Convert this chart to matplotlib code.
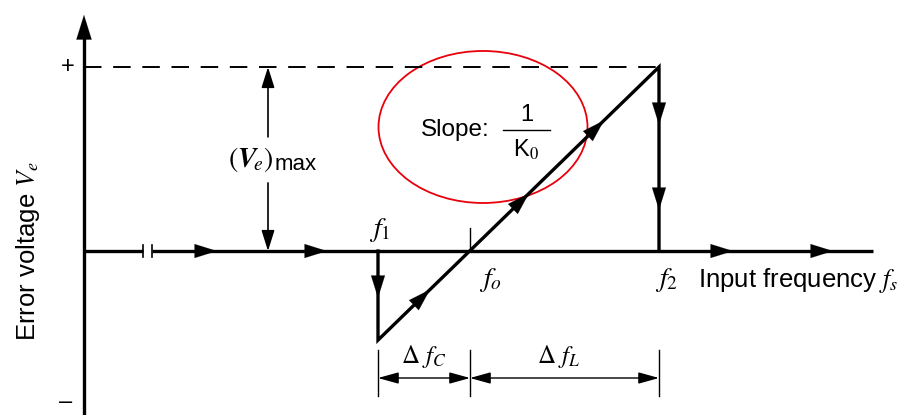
import numpy as np
import matplotlib.pyplot as plt
from matplotlib.patches import Ellipse

plt.rcParams['font.family'] = ['Liberation Sans', 'DejaVu Sans']
plt.rcParams['mathtext.fontset'] = 'stix'

# frequency positions, measured from the V_e axis
f_axis_end = 7.89
f_break = [0.59, 0.68]
f1, fo, f2 = 2.94, 3.86, 5.75
f_vmax_marker = 1.84

# error voltage, normalised so that (V_e)max = 1
v_max = 1.0
v_low = -0.484
v_axis = [-0.891, 1.283]
v_minus = -0.82
v_dim = -0.69

# direction arrows along each branch of the characteristic
axis_arrows = [1.33, 2.43, 6.49, 7.49]
f1_drop_arrow = -0.255
rise_arrows = [3.46, 4.45, 5.20]
f2_drop_arrows = [0.685, 0.223]

LW = 2.4
HEAD = '-|>,head_length=0.8,head_width=0.25'


def rise(f):
    return v_low + (f - f1) / (f2 - f1) * (v_max - v_low)


def head(ax, tip, back, style=HEAD, scale=20):
    ax.annotate('', xy=tip, xytext=back,
                arrowprops=dict(arrowstyle=style, mutation_scale=scale,
                                color='black', lw=0.1, shrinkA=0, shrinkB=0))


fig = plt.figure(figsize=(9.12, 4.15), dpi=100)
ax = fig.add_axes([0, 0, 1, 1])
ax.set_xlim(-0.84, 8.28)
ax.set_ylim(-0.891, 1.364)
ax.axis('off')

# V_e axis
ax.plot([0, 0], [v_axis[0], v_axis[1] - 0.05], color='black', lw=LW)
head(ax, (0, v_axis[1]), (0, v_axis[1] - 0.1), scale=22)
ax.text(-0.16, v_max, '+', fontsize=17, ha='center', va='center')
ax.text(-0.18, v_minus, '\u2013', fontsize=17, ha='center', va='center')

# frequency axis with a break near the origin
ax.plot([0, f_break[0]], [0, 0], color='black', lw=LW, solid_capstyle='butt')
ax.plot([f_break[1], f_axis_end], [0, 0], color='black', lw=LW, solid_capstyle='butt')
for fb in f_break:
    ax.plot([fb, fb], [-0.035, 0.035], color='black', lw=1.2)
for fa in axis_arrows:
    head(ax, (fa, 0), (fa - 0.1, 0))

# (V_e)max level
ax.plot([0, f2], [v_max, v_max], color='black', lw=1.4, ls=(0, (9, 6)))

# characteristic: drop at f1, linear rise through fo, drop at f2
ax.plot([f1, f1, f2, f2], [0, v_low, v_max, 0], color='black', lw=LW,
        solid_joinstyle='miter')
head(ax, (f1, f1_drop_arrow), (f1, f1_drop_arrow + 0.05))
for fr in rise_arrows:
    head(ax, (fr, rise(fr)), (fr - 0.06, rise(fr - 0.06)))
for vd in f2_drop_arrows:
    head(ax, (f2, vd), (f2, vd + 0.05))
ax.plot([fo, fo], [0, 0.125], color='black', lw=1.0)

# (V_e)max dimension
ax.annotate('', xy=(f_vmax_marker, v_max), xytext=(f_vmax_marker, 0.62),
            arrowprops=dict(arrowstyle='-|>,head_length=0.7,head_width=0.22',
                            mutation_scale=18, color='black', lw=1.2,
                            shrinkA=0, shrinkB=0))
ax.annotate('', xy=(f_vmax_marker, 0), xytext=(f_vmax_marker, 0.37),
            arrowprops=dict(arrowstyle='-|>,head_length=0.7,head_width=0.22',
                            mutation_scale=18, color='black', lw=1.2,
                            shrinkA=0, shrinkB=0))
ax.text(f_vmax_marker + 0.06, 0.495, r'$(\mathbfit{V}_{\!e})$', fontsize=20,
        ha='right', va='center')
ax.text(f_vmax_marker + 0.07, 0.47, 'max', fontsize=16, ha='left', va='center')

# frequency labels
ax.text(f1 + 0.02, 0.04, r'$f_1$', fontsize=20, ha='center', va='bottom')
ax.text(fo + 0.2, -0.16, r'$f_o$', fontsize=20, ha='center', va='center')
ax.text(f2 + 0.08, -0.155, r'$f_2$', fontsize=20, ha='center', va='center')
ax.text(6.14, -0.16, r'Input frequency $f_s$', fontsize=18.5, ha='left', va='center')
ax.text(-0.56, 0.0, r'Error voltage $V_e$', fontsize=18.5, rotation=90,
        ha='center', va='center')

# Δf_C and Δf_L dimensions
for fx in [f1, fo, f2]:
    ax.plot([fx, fx], [-0.54, -0.79], color='black', lw=1.0)
dim_style = '<|-|>,head_length=0.9,head_width=0.25'
for a, b in [(f1, fo), (fo, f2)]:
    ax.annotate('', xy=(b, v_dim), xytext=(a, v_dim),
                arrowprops=dict(arrowstyle=dim_style, mutation_scale=14,
                                color='black', lw=1.0, shrinkA=0, shrinkB=0))
ax.text((f1 + fo) / 2, -0.575, r'$\Delta\ f_C$', fontsize=18, ha='center', va='center')
ax.text((fo + f2) / 2 - 0.06, -0.575, r'$\Delta\ f_L$', fontsize=18, ha='center', va='center')

# slope annotation
ax.text(3.71, 0.657, 'Slope:', fontsize=17.5, ha='center', va='center')
ax.plot([4.19, 4.66], [0.66, 0.66], color='black', lw=1.0)
ax.text(4.43, 0.74, '1', fontsize=17, ha='center', va='center')
ax.text(4.42, 0.55, r'K$_0$', fontsize=17, ha='center', va='center')
ax.add_patch(Ellipse((3.99, 0.674), 2.09, 0.826, fill=False,
                     edgecolor='#e8000b', lw=1.3))

fig.savefig('out.png', dpi=100)
